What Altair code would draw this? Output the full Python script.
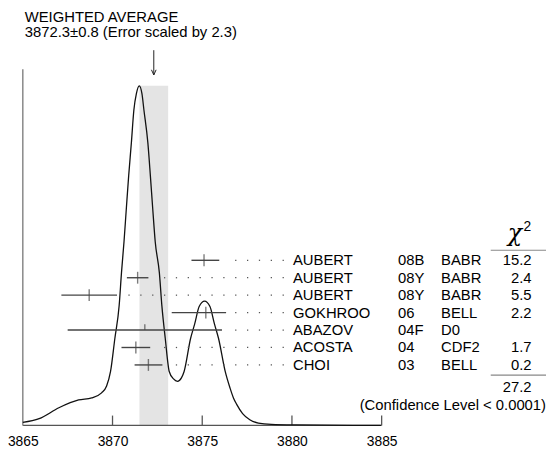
import altair as alt
import pandas as pd

# ---------------- data ----------------
names = ["AUBERT", "AUBERT", "AUBERT", "GOKHROO", "ABAZOV", "ACOSTA", "CHOI"]
years = ["08B", "08Y", "08Y", "06", "04F", "04", "03"]
experiments = ["BABR", "BABR", "BABR", "BELL", "D0", "CDF2", "BELL"]
chi2 = ["15.2", "2.4", "5.5", "2.2", "", "1.7", "0.2"]
values = [3875.1, 3871.4, 3868.7, 3875.2, 3871.8, 3871.3, 3872.0]
err_minus = [0.7, 0.6, 1.55, 1.9, 4.3, 0.8, 0.77]
err_plus = [0.85, 0.6, 1.55, 1.13, 4.3, 0.8, 0.78]

avg_value = 3872.3
avg_error = 0.8
title_lines = ["WEIGHTED AVERAGE", "3872.3\u00b10.8 (Error scaled by 2.3)"]
chi2_total = "27.2"
confidence = "(Confidence Level < 0.0001)"

axis_values = [3865, 3870, 3875, 3880, 3885]

# ideogram curve (relative height)
curve_x = [3865.00, 3865.91, 3867.01, 3868.11, 3868.84, 3869.39, 3869.67, 3869.89,
           3870.13, 3870.37, 3870.50, 3870.64, 3870.77, 3870.90, 3871.05, 3871.19,
           3871.33, 3871.49, 3871.64, 3871.75, 3871.97, 3872.11, 3872.24, 3872.38,
           3872.61, 3872.75, 3872.94, 3873.16, 3873.40, 3873.62, 3873.84, 3873.99,
           3874.35, 3874.58, 3874.83, 3875.13, 3875.43, 3875.68, 3875.91, 3876.28,
           3876.55, 3876.74, 3876.92, 3877.25, 3877.65, 3878.13, 3878.85, 3880.23,
           3884.96]
curve_y = [0.009, 0.020, 0.052, 0.075, 0.081, 0.096, 0.116, 0.159,
           0.256, 0.353, 0.450, 0.541, 0.639, 0.735, 0.832, 0.929,
           0.977, 1.000, 0.977, 0.929, 0.832, 0.735, 0.639, 0.541,
           0.450, 0.353, 0.256, 0.159, 0.137, 0.130, 0.140, 0.159,
           0.256, 0.299, 0.350, 0.366, 0.350, 0.299, 0.256, 0.159,
           0.110, 0.081, 0.062, 0.035, 0.017, 0.007, 0.003, 0.0015,
           0.0]

# ---------------- layout constants ----------------
W, H = 518, 420
X_DOMAIN = [3865, 3893.5]
Y_DOMAIN = [0, 1.2209]
ROW_RANGE = [252.7, 358.7]
FONT = "Liberation Sans"
FS = 15
DOT_START, DOT_STEP, DOT_N, DOT_GAP = 3870.92, 0.661, 14, 0.33

n = len(names)
rows = pd.DataFrame({
    "row": list(range(n)),
    "name": names, "year": years, "exp": experiments, "chi2": chi2,
    "value": values,
    "lo": [v - m for v, m in zip(values, err_minus)],
    "hi": [v + p for v, p in zip(values, err_plus)],
})
rows["used"] = rows["chi2"] != ""

dots = []
for r, hi in zip(rows["row"], rows["hi"]):
    for k in range(DOT_N):
        g = DOT_START + k * DOT_STEP
        if g > hi + DOT_GAP:
            dots.append({"row": r, "x": g})
dots = pd.DataFrame(dots)

curve = pd.DataFrame({"x": curve_x, "y": curve_y})

xs = alt.Scale(domain=X_DOMAIN, nice=False, zero=False)
ys = alt.Scale(domain=Y_DOMAIN, nice=False, zero=False)
rs = alt.Scale(type="point", domain=list(range(n)), range=ROW_RANGE, padding=0)
x_axis = alt.Axis(values=axis_values, format="d", domain=False, ticks=False,
                  tickSize=0, grid=False, labelFontSize=14, labelFont=FONT,
                  labelColor="#000", labelPadding=9, title=None, labelFlush=False)


def X(f):
    return alt.X(f, type="quantitative", scale=xs, axis=x_axis)


def Y(f):
    return alt.Y(f, type="quantitative", scale=ys, axis=None)


def R():
    return alt.Y("row:O", scale=rs, axis=None)


one = pd.DataFrame({"x": [avg_value], "lo": [avg_value - avg_error],
                    "hi": [avg_value + avg_error], "top": [1.0],
                    "a0": [1.105], "a1": [1.032], "z": [0.0]})

band = alt.Chart(one).mark_rect(color="#e4e4e4").encode(
    x=X("lo"), x2="hi:Q", y=Y("z"), y2="top:Q")

axis_line = alt.Chart(pd.DataFrame({"a": [min(axis_values)], "b": [max(axis_values)]})).mark_rule(
    color="#555", strokeWidth=1.3).encode(x=X("a"), x2="b", y=alt.value(H))
axis_ticks = alt.Chart(pd.DataFrame({"t": axis_values[1:]})).mark_rule(
    color="#555", strokeWidth=1.3).encode(x=X("t"), y=alt.value(H - 10), y2=alt.value(H))
left_line = alt.Chart(pd.DataFrame({"a": [min(axis_values)], "y0": [0.0], "y1": [1.049]})).mark_rule(
    color="#888", strokeWidth=1.5).encode(x=X("a"), y=Y("y0"), y2="y1:Q")

line = alt.Chart(curve).mark_line(color="#111", strokeWidth=1.3, interpolate="monotone").encode(
    x=X("x"), y=Y("y"))

arrow = alt.Chart(one).mark_rule(color="#222", strokeWidth=1).encode(x=X("x"), y=Y("a0"), y2="a1:Q")
arrow_head = alt.Chart(one).mark_point(
    shape="M -0.45 -1 L 0 0 L 0.45 -1", filled=False, size=110, color="#222", strokeWidth=1,
    opacity=1).encode(x=X("x"), y=Y("a1"))

title = alt.Chart(pd.DataFrame({"t": [0]})).mark_text(
    text=title_lines, align="left", baseline="middle", font=FONT, fontSize=FS,
    lineHeight=15.5, color="#000").encode(x=alt.value(2), y=alt.value(6))

bars = alt.Chart(rows).mark_rule(color="#444", strokeWidth=1.4).encode(
    x=X("lo"), x2="hi:Q", y=R())
ticks_full = alt.Chart(rows).transform_filter("datum.used").mark_tick(
    color="#444", size=12, thickness=1.4).encode(x=X("value"), y=R())
ticks_half = alt.Chart(rows).transform_filter("!datum.used").mark_tick(
    color="#444", size=6, thickness=1.4, yOffset=-3).encode(x=X("value"), y=R())
dot_layer = alt.Chart(dots).mark_square(size=1.6, color="#555", opacity=1).encode(
    x=X("x"), y=R())


def col(field, xpos, align="left"):
    return alt.Chart(rows).mark_text(
        align=align, baseline="middle", font=FONT, fontSize=FS, color="#000").encode(
        x=alt.value(xpos), y=R(), text=f"{field}:N")


names_t = col("name", 273.7)
years_t = col("year", 380)
exps_t = col("exp", 423.7)
chi_t = col("chi2", 515.3, "right")

lines_df = pd.DataFrame({"k": [0]})
chi_head = alt.Chart(lines_df).mark_text(
    text="\u03c7", font="DejaVu Serif", fontStyle="italic", fontSize=24, align="center",
    baseline="alphabetic", color="#000").encode(x=alt.value(498.5), y=alt.value(233))
chi_sup = alt.Chart(lines_df).mark_text(
    text="2", font=FONT, fontSize=14, align="center", baseline="middle",
    color="#000").encode(x=alt.value(511), y=alt.value(219))
head_rule = alt.Chart(lines_df).mark_rule(color="#888", strokeWidth=1.2).encode(
    x=alt.value(474), x2=alt.value(530), y=alt.value(242.5))
sum_rule = alt.Chart(lines_df).mark_rule(color="#888", strokeWidth=1.2).encode(
    x=alt.value(474), x2=alt.value(530), y=alt.value(369))
total_t = alt.Chart(lines_df).mark_text(
    text=chi2_total, font=FONT, fontSize=FS, align="right", baseline="middle",
    color="#000").encode(x=alt.value(515.3), y=alt.value(381))
conf_t = alt.Chart(lines_df).mark_text(
    text=confidence, font=FONT, fontSize=FS, align="right", baseline="middle",
    color="#000").encode(x=alt.value(530), y=alt.value(399))

chart = alt.layer(
    band, axis_line, axis_ticks, left_line, line, arrow, arrow_head, title,
    dot_layer, bars, ticks_full, ticks_half,
    names_t, years_t, exps_t, chi_t, chi_head, chi_sup, head_rule, sum_rule, total_t, conf_t,
).resolve_scale(y="independent").properties(
    width=W, height=H,
    autosize=alt.AutoSizeParams(type="none"),
    padding={"left": 15, "top": 0, "right": 13, "bottom": 22},
).configure_view(stroke=None)

chart.save("out.html", embed_options={"renderer": "svg", "actions": False})
